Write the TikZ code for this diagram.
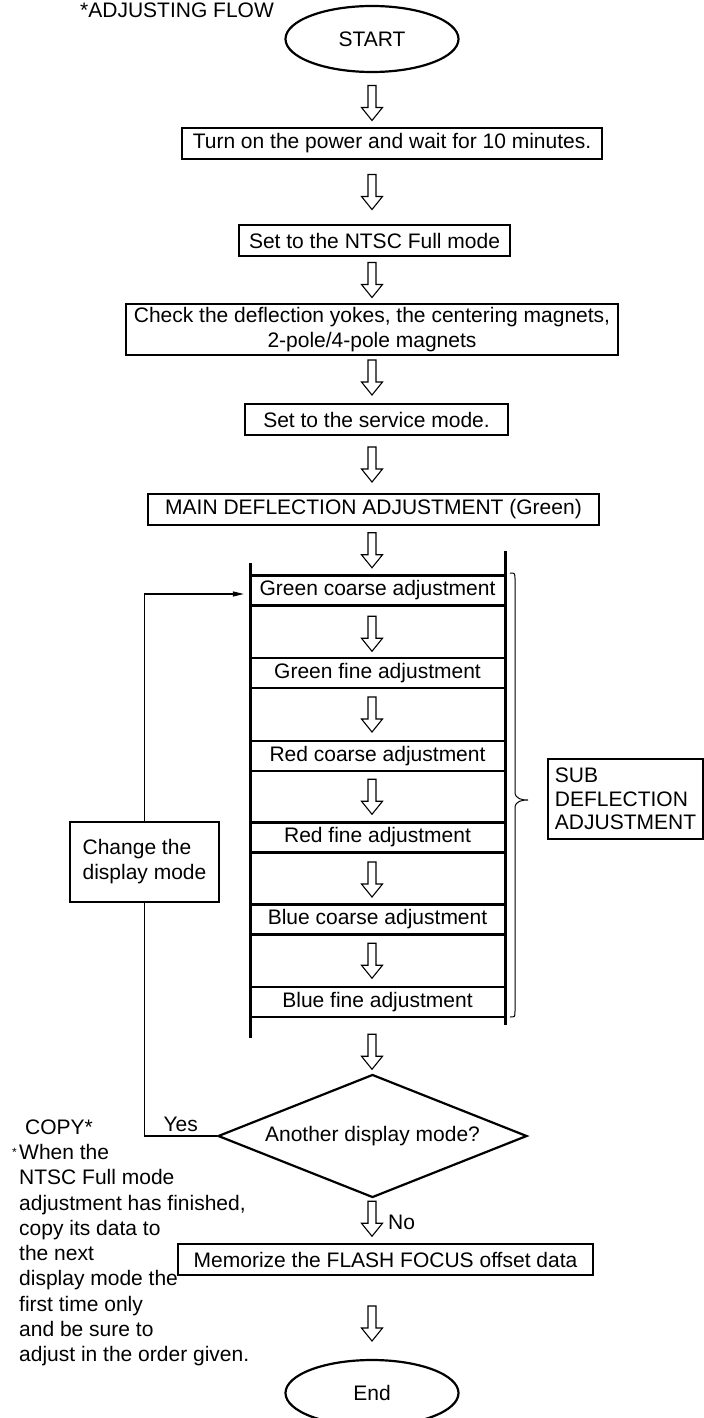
\documentclass[tikz,border=0pt]{standalone}
\usepackage{fontspec}
\setmainfont{Liberation Sans}
\usetikzlibrary{calc,shapes.geometric,arrows.meta,positioning}
\tikzset{
  stepbox/.style={draw, line width=2.2bp, minimum height=31bp, inner sep=2bp, align=center},
  adjbox/.style={stepbox, minimum width=255bp, minimum height=30bp},
  terminal/.style={draw, ellipse, line width=2.2bp, minimum width=173bp, minimum height=66bp, inner sep=0pt},
  decision/.style={draw, diamond, line width=2.2bp, minimum width=309bp, minimum height=123bp, aspect=2.5, inner sep=2bp},
  rail/.style={line width=3bp},
  loopline/.style={line width=1.3bp},
  note/.style={align=left, inner sep=0pt},
  hollow/.pic={\draw[line width=1.1bp, line join=miter] (-4,-17.5) -- (-4,4.5) -- (-10.5,4.5) -- (0,17.5) -- (10.5,4.5) -- (4,4.5) -- (4,-17.5) -- cycle;}
}
\begin{document}
\begin{tikzpicture}[x=1bp, y=-1bp, font=\fontsize{21bp}{25bp}\selectfont]
  \useasboundingbox (0,0) rectangle (704,1418);
  \node[anchor=base west, inner sep=0pt] (title) at (80,17.5) {*ADJUSTING FLOW};
  % main flow
  \node[terminal] (start) at (372,39) {START};
  \node[stepbox, minimum width=420bp] (turn) at (392,143.5) {Turn on the power and wait for 10 minutes.};
  \node[stepbox, minimum width=271bp] (ntsc) at (374.5,240.5) {Set to the NTSC Full mode};
  \node[stepbox, minimum width=492bp, minimum height=51bp] (check) at (372,329.5) {Check the deflection yokes, the centering magnets,\\2-pole/4-pole magnets};
  \node[stepbox, minimum width=263bp] (service) at (376.5,419.5) {Set to the service mode.};
  \node[stepbox, minimum width=451bp] (main) at (373.5,509.5) {MAIN DEFLECTION ADJUSTMENT (Green)};
  % sub deflection steps
  \node[adjbox] (gcoarse) at (377.5,590.5) {Green coarse adjustment};
  \node[adjbox] (gfine) at (377.5,673) {Green fine adjustment};
  \node[adjbox] (rcoarse) at (377.5,756) {Red coarse adjustment};
  \node[adjbox] (rfine) at (377.5,837.5) {Red fine adjustment};
  \node[adjbox] (bcoarse) at (377.5,919.5) {Blue coarse adjustment};
  \node[adjbox] (bfine) at (377.5,1002) {Blue fine adjustment};
  \node[decision] (another) at (372.5,1136) {Another display mode?};
  \node[stepbox, minimum width=415bp] (memo) at (385.5,1259.5) {Memorize the FLASH FOCUS offset data};
  \node[terminal] (end) at (372,1393) {End};
  % rails and brace
  \coordinate (railLt) at (250,563);
  \coordinate (railLb) at (250,1038);
  \coordinate (railRt) at (505,551);
  \coordinate (railRb) at (505,1025);
  \draw[rail] (railLt) -- (railLb);
  \draw[rail] (railRt) -- (railRb);
  \draw[line width=1bp] (510,573) .. controls (515,573) .. (515,580) -- (515,792)
    .. controls (515,799) and (522,800) .. (528,800)
    .. controls (522,800) and (515,801) .. (515,808) -- (515,1011)
    .. controls (515,1017) .. (510,1017);
  \node[stepbox, align=left, minimum width=155bp, minimum height=80bp, font=\fontsize{21bp}{23.5bp}\selectfont] (subadj) at (625.5,799) {SUB\\DEFLECTION\\ADJUSTMENT};
  % block arrows
  \foreach \a/\b/\s in {start/turn/3, turn/ntsc/0, ntsc/check/0, check/service/-2, service/main/0, main/gcoarse/0, gcoarse/gfine/2, gfine/rcoarse/0, rcoarse/rfine/0, rfine/bcoarse/1, bcoarse/bfine/0, bfine/another/6, another/memo/-2, memo/end/6}{
    \coordinate (gap) at ($(\a.south)!0.5!(\b.north)+(0,\s)$);
    \pic at (start |- gap) {hollow};
  }
  \node[anchor=west, inner sep=0pt] (no) at (388,1222) {No};
  % loop back
  \node[stepbox, align=left, minimum width=149bp, minimum height=80bp] (change) at (144.5,862) {Change the\\display mode};
  \draw[loopline] (another.west) -| node[pos=0.25, above]{Yes} (change.south);
  \draw[loopline, -{Triangle[length=11bp,width=5bp]}, shorten >=5bp] (change.north) |- ($(gcoarse.west)+(0,3.5)$);
  % copy note
  \node[anchor=west, inner sep=0pt] (copy) at (25,1127) {COPY*};
  \node[anchor=east, inner sep=0pt, font=\fontsize{12bp}{12bp}\selectfont] (star) at (17,1152) {*};
  \node[note, anchor=north west, font=\fontsize{21bp}{25.3bp}\selectfont] (copynote) at (19,1144) {When the\\NTSC Full mode\\adjustment has finished,\\copy its data to\\the next\\display mode the\\first time only\\and be sure to\\adjust in the order given.};
\end{tikzpicture}
\end{document}
